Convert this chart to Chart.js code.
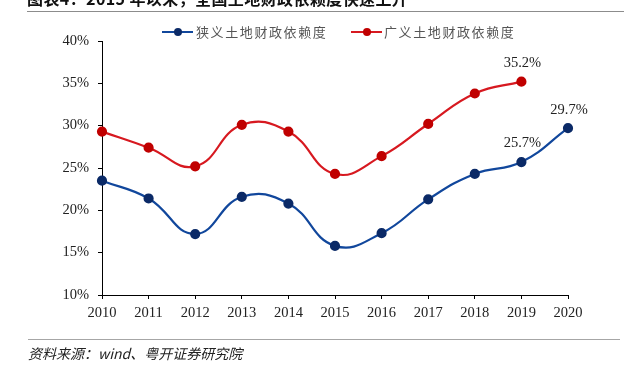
<!DOCTYPE html>
<html>
<head>
<meta charset="utf-8">
<script src="https://cdn.jsdelivr.net/npm/chart.js@4"></script>
<style>
  html, body { margin: 0; padding: 0; background: #fff; }
  #wrap { position: relative; width: 624px; height: 373px; overflow: hidden; background: #fff; }
  #c { position: absolute; left: 0; top: 0; }
  .title { position: absolute; left: 27px; top: -10px; font: bold 16px "Noto Sans CJK SC", sans-serif; color: #111; white-space: nowrap; line-height: 16px; letter-spacing: 0.4px; }
  .tline { position: absolute; left: 27px; top: 11px; width: 597px; height: 1px; background: #8c8c8c; }
  .fline { position: absolute; left: 28px; top: 339px; width: 592px; height: 1px; background: #a6a6a6; }
  .foot { position: absolute; left: 28px; top: 344px; font: italic 14px "Noto Sans CJK SC", sans-serif; color: #222; white-space: nowrap; line-height: 18px; }
  .leg { position: absolute; top: 23px; font: 13px "Noto Sans CJK SC", sans-serif; color: #555; white-space: nowrap; line-height: 18px; letter-spacing: 1.6px; }
  .leg .mk { position: absolute; top: 8px; width: 31px; height: 2px; }
  .leg .dot { position: absolute; top: -3px; left: 12px; width: 8px; height: 8px; border-radius: 50%; }
  .leg .tx { position: absolute; white-space: nowrap; }
</style>
</head>
<body>
<div id="wrap">
  <canvas id="c" width="624" height="373"></canvas>
  <div class="title">图表4：2015 年以来，全国土地财政依赖度快速上升</div>
  <div class="tline"></div>
  <div class="leg" style="left:162px;">
    <span class="mk" style="left:0;background:#11479c;"><span class="dot" style="background:#0b2a67;"></span></span>
    <span class="tx" style="left:34px;">狭义土地财政依赖度</span>
  </div>
  <div class="leg" style="left:351px;">
    <span class="mk" style="left:0;background:#d71920;"><span class="dot" style="background:#c00000;"></span></span>
    <span class="tx" style="left:33px;">广义土地财政依赖度</span>
  </div>
  <div class="fline"></div>
  <div class="foot">资料来源：wind、粤开证券研究院</div>
</div>
<script>
const years = ['2010','2011','2012','2013','2014','2015','2016','2017','2018','2019','2020'];
const narrowName = '狭义土地财政依赖度';
const broadName = '广义土地财政依赖度';
const narrowValues = [23.5, 21.4, 17.2, 21.6, 20.8, 15.8, 17.3, 21.3, 24.3, 25.7, 29.7];
const broadValues = [29.3, 27.4, 25.2, 30.1, 29.3, 24.3, 26.4, 30.2, 33.8, 35.2, null];
const narrowLabelIdx = [9, 10];
const broadLabelIdx = [9];
const yTicks = [10, 15, 20, 25, 30, 35, 40];

const serif = '"Liberation Serif", "Times New Roman", serif';

const labelPlugin = {
  id: 'valueLabels',
  afterDatasetsDraw(chart) {
    const ctx = chart.ctx;
    ctx.save();
    ctx.font = '14.5px ' + serif;
    ctx.fillStyle = '#222';
    ctx.textAlign = 'center';
    ctx.textBaseline = 'middle';
    chart.data.datasets.forEach((ds, di) => {
      const meta = chart.getDatasetMeta(di);
      (ds.labelIdx || []).forEach(i => {
        const el = meta.data[i];
        if (!el) return;
        ctx.fillText(ds.data[i].toFixed(1) + '%', el.x + 1, el.y - 18.5);
      });
    });
    ctx.restore();
  }
};

new Chart(document.getElementById('c'), {
  type: 'line',
  data: {
    labels: years,
    datasets: [
      {
        label: narrowName, data: narrowValues, labelIdx: narrowLabelIdx,
        borderColor: '#11479c', backgroundColor: '#0b2a67',
        pointBackgroundColor: '#0b2a67', pointBorderColor: '#0b2a67',
        borderWidth: 2.2, pointRadius: 4, tension: 0.45, fill: false
      },
      {
        label: broadName, data: broadValues, labelIdx: broadLabelIdx,
        borderColor: '#d71920', backgroundColor: '#c00000',
        pointBackgroundColor: '#c00000', pointBorderColor: '#c00000',
        borderWidth: 2.2, pointRadius: 4, tension: 0.45, fill: false
      }
    ]
  },
  options: {
    responsive: false,
    animation: false,
    layout: { padding: { top: 41, right: 56, left: 0, bottom: 0 } },
    plugins: { legend: { display: false }, tooltip: { enabled: false } },
    scales: {
      x: {
        type: 'category',
        offset: false,
        afterFit(s) { s.height = 78; },
        grid: { display: true, drawOnChartArea: false, drawTicks: true, tickLength: 4, color: '#000', offset: false },
        border: { display: true, color: '#000', width: 1 },
        ticks: { autoSkip: false, maxRotation: 0, padding: 5, color: '#222', font: { family: serif, size: 14.5 } }
      },
      y: {
        min: 10, max: 40,
        afterFit(s) { s.width = 102; },
        afterBuildTicks(s) { s.ticks = yTicks.map(v => ({ value: v })); },
        grid: { display: true, drawOnChartArea: false, drawTicks: true, tickLength: 4, color: '#000' },
        border: { display: true, color: '#000', width: 1 },
        ticks: { padding: 9, color: '#222', font: { family: serif, size: 14.5 }, callback: v => v + '%' }
      }
    }
  },
  plugins: [labelPlugin]
});
</script>
</body>
</html>
